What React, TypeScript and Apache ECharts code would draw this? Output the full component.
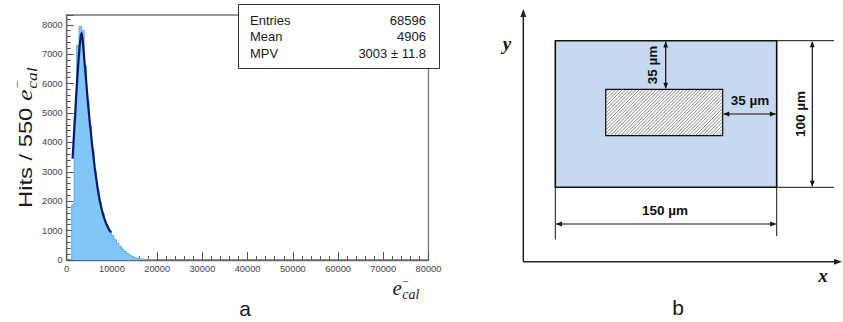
import React, { useEffect, useRef } from 'react';
import * as echarts from 'echarts';

// ---------- Panel a: histogram data ----------
const BIN_WIDTH = 550;
const FIRST_BIN_LOW_EDGE = 1100;
const hitCounts = [1870, 4800, 7300, 7950, 7800, 6600, 5400, 4550, 3750, 3000, 2400, 1950, 1600, 1330, 1150, 990, 830, 690, 570, 460, 370, 290, 220, 160, 115, 80, 55, 35, 22, 14, 8, 5, 3, 2];

// Landau fit curve
const fitEnergy = [1300, 1600, 1900, 2200, 2500, 2800, 3050, 3300, 3550, 3800, 4100, 4400, 4700, 5000, 5300, 5600, 5900, 6200, 6500, 6800, 7100, 7400, 7700, 8000, 8300, 8600, 8900, 9200, 9500, 9800];
const fitHits = [3450, 4250, 5050, 5850, 6550, 7150, 7550, 7730, 7450, 7000, 6450, 5900, 5350, 4850, 4400, 3950, 3550, 3150, 2800, 2480, 2200, 1960, 1750, 1570, 1420, 1290, 1180, 1080, 1000, 940];

const X_MIN = 0;
const X_MAX = 80000;
const X_STEP = 10000;
const Y_MIN = 0;
const Y_MAX = 8333;
const Y_STEP = 1000;

const statLabels = ['Entries', 'Mean', 'MPV'];
const statValues = ['68596', '4906', '3003 \u00b1 11.8'];

const yTitleMain = 'Hits / 550 ';
const eSymbol = 'e';
const eSub = 'cal';
const eSup = '\u2212';

// ---------- Panel b: diagram labels ----------
const dimTop = '35 \u00b5m';
const dimSide = '35 \u00b5m';
const dimHeight = '100 \u00b5m';
const dimWidth = '150 \u00b5m';
const panelLabels = ['a', 'b'];
const axisNames = ['x', 'y'];

const SANS = '"Liberation Sans", Arial, sans-serif';
const SERIF = '"Liberation Serif", "DejaVu Serif", serif';

function measure(font: string, text: string): number {
  const c = document.createElement('canvas').getContext('2d');
  if (!c) return text.length * 8;
  c.font = font;
  return c.measureText(text).width;
}

function txt(text: string, x: number, y: number, o: any = {}) {
  const align = o.align || 'center';
  const va = o.va || 'middle';
  return {
    type: 'text',
    x,
    y,
    rotation: o.rotation || 0,
    z: o.z || 30,
    style: {
      text,
      fontSize: o.size || 12,
      fontFamily: o.family || SANS,
      fontWeight: o.weight || 'normal',
      fontStyle: o.style || 'normal',
      fill: o.fill || '#111',
      align,
      verticalAlign: va,
      textAlign: align,
      textVerticalAlign: va,
    },
  };
}

function ln(x1: number, y1: number, x2: number, y2: number, w = 1.2, color = '#111') {
  return { type: 'line', z: 20, shape: { x1, y1, x2, y2 }, style: { stroke: color, lineWidth: w } };
}

function arrowHead(tx: number, ty: number, dx: number, dy: number, len = 6, half = 2.4, color = '#111') {
  const bx = tx - dx * len;
  const by = ty - dy * len;
  const px = -dy * half;
  const py = dx * half;
  return {
    type: 'polygon',
    z: 21,
    shape: { points: [[tx, ty], [bx + px, by + py], [bx - px, by - py]] },
    style: { fill: color },
  };
}

// e_cal^- built in local coordinates, baseline at y = 0, starting at x = 0
function eCalChildren(startX: number, eSize: number, subSize: number, supSize: number, fill: string) {
  const eFont = `italic ${eSize}px ${SERIF}`;
  const eW = measure(eFont, eSymbol);
  const k = 0.35;
  return [
    txt(eSymbol, startX, -k * eSize, { size: eSize, family: SERIF, style: 'italic', align: 'left', fill }),
    txt(eSub, startX + eW + 0.5, subSize * 0.33 - k * subSize, { size: subSize, family: SERIF, style: 'italic', align: 'left', fill }),
    txt(eSup, startX + eW + 0.5, -eSize * 0.68, { size: supSize, family: SERIF, align: 'left', fill }),
  ];
}

function hatchLines(x0: number, y0: number, x1: number, y1: number, step: number) {
  const out: any[] = [];
  for (let k = x0 + y0 + step; k < x1 + y1; k += step) {
    const xa = Math.max(x0, k - y1);
    const xb = Math.min(x1, k - y0);
    if (xb <= xa) continue;
    out.push({
      type: 'line',
      z: 16,
      shape: { x1: xa, y1: k - xa, x2: xb, y2: k - xb },
      style: { stroke: '#7a7a7a', lineWidth: 0.8 },
    });
  }
  return out;
}

export default function App() {
  const ref = useRef<HTMLDivElement>(null);

  useEffect(() => {
    document.body.style.margin = '0';
    if (!ref.current) return;
    const chart = echarts.init(ref.current, null, { renderer: 'svg' });

    // histogram as a step outline
    const histData: number[][] = [[FIRST_BIN_LOW_EDGE, 0]];
    hitCounts.forEach((c, i) => histData.push([FIRST_BIN_LOW_EDGE + i * BIN_WIDTH, c]));
    const lastEdge = FIRST_BIN_LOW_EDGE + hitCounts.length * BIN_WIDTH;
    histData.push([lastEdge, 0]);

    const fitData = fitEnergy.map((e, i) => [e, fitHits[i]]);

    const mainSize = 19;
    const mainFont = `${mainSize}px ${SANS}`;
    const mainW = measure(mainFont, yTitleMain);

    const textColor = '#1a1a1a';

    // ----- diagram geometry -----
    const axX = 523.3;
    const axY = 261.7;
    const bx0 = 555.3, by0 = 40.7, bx1 = 776.7, by1 = 187.3;
    const hx0 = 605.7, hy0 = 89.3, hx1 = 722.7, hy1 = 135.7;
    const vDimX = 665.7;
    const hDimY = 114;
    const rDimX = 812.3;
    const bDimY = 224;

    const graphics: any[] = [
      // stat box
      {
        type: 'rect',
        z: 25,
        shape: { x: 238.5, y: 4.5, width: 201, height: 64 },
        style: { fill: '#ffffff', stroke: '#333', lineWidth: 1 },
      },
      ...statLabels.map((s, i) => txt(s, 250, 20 + i * 16.7, { size: 13, align: 'left', fill: textColor })),
      ...statValues.map((s, i) => txt(s, 426, 20 + i * 16.7, { size: 13, align: 'right', fill: textColor })),

      // y axis title (rotated, stretched)
      {
        type: 'group',
        x: 32,
        y: 208,
        rotation: Math.PI / 2,
        scaleX: 1.25,
        children: [
          txt(yTitleMain, 0, -0.35 * mainSize, { size: mainSize, align: 'left', fill: textColor }),
          ...eCalChildren(mainW, 21, 14, 11, textColor),
        ],
      },
      // x axis title
      {
        type: 'group',
        x: 392.5,
        y: 295,
        children: eCalChildren(0, 21, 14, 11, textColor),
      },
      // panel letters
      txt(panelLabels[0], 245, 308, { size: 21, fill: textColor }),
      txt(panelLabels[1], 678, 307, { size: 21, fill: textColor }),

      // ----- panel b -----
      ln(axX, 14, axX, axY, 1.5, '#222'),
      ln(axX, axY, 836, axY, 1.5, '#222'),
      arrowHead(axX, 9, 0, -1, 8, 3, '#222'),
      arrowHead(842, axY, 1, 0, 8, 3, '#222'),
      txt(axisNames[1], 507, 43, { size: 19, family: SERIF, style: 'italic', weight: 'bold', fill: '#111' }),
      txt(axisNames[0], 823, 275, { size: 19, family: SERIF, style: 'italic', weight: 'bold', fill: '#111' }),

      {
        type: 'rect',
        z: 15,
        shape: { x: bx0, y: by0, width: bx1 - bx0, height: by1 - by0 },
        style: { fill: '#c6d9f0', stroke: '#111', lineWidth: 1.6 },
      },
      {
        type: 'rect',
        z: 15.5,
        shape: { x: hx0, y: hy0, width: hx1 - hx0, height: hy1 - hy0 },
        style: { fill: '#f6f6f6', stroke: 'none' },
      },
      ...hatchLines(hx0, hy0, hx1, hy1, 3.4),
      {
        type: 'rect',
        z: 17,
        shape: { x: hx0, y: hy0, width: hx1 - hx0, height: hy1 - hy0 },
        style: { fill: 'none', stroke: '#111', lineWidth: 1.2 },
      },

      // top 35 µm (vertical)
      ln(vDimX, by0 + 1, vDimX, hy0 - 1),
      arrowHead(vDimX, by0 + 0.8, 0, -1),
      arrowHead(vDimX, hy0 - 0.6, 0, 1),
      txt(dimTop, 652, 65, { size: 13.5, weight: 'bold', rotation: Math.PI / 2, fill: '#111' }),

      // side 35 µm (horizontal)
      ln(hx1 + 1, hDimY, bx1 - 1, hDimY),
      arrowHead(hx1 + 0.6, hDimY, -1, 0),
      arrowHead(bx1 - 0.8, hDimY, 1, 0),
      txt(dimSide, 750, 100, { size: 13.5, weight: 'bold', fill: '#111' }),

      // 100 µm
      ln(bx1, by0, 834, by0, 1),
      ln(bx1, by1, 834, by1, 1),
      ln(rDimX, by0 + 1, rDimX, by1 - 1),
      arrowHead(rDimX, by0 + 0.6, 0, -1),
      arrowHead(rDimX, by1 - 0.6, 0, 1),
      txt(dimHeight, 800, 114, { size: 13.5, weight: 'bold', rotation: Math.PI / 2, fill: '#111' }),

      // 150 µm
      ln(bx0, by1, bx0, 239.5, 1),
      ln(bx1, by1, bx1, 236, 1),
      ln(bx0 + 1, bDimY, bx1 - 1, bDimY),
      arrowHead(bx0 + 0.6, bDimY, -1, 0),
      arrowHead(bx1 - 0.6, bDimY, 1, 0),
      txt(dimWidth, 665, 210, { size: 13.5, weight: 'bold', fill: '#111' }),
    ];

    const axisLabelStyle = {
      fontSize: 9.3,
      color: '#444',
      fontFamily: SANS,
    };

    const option: any = {
      animation: false,
      backgroundColor: '#ffffff',
      grid: {
        left: 66.7,
        top: 15,
        right: 414.5,
        bottom: 62,
        show: true,
        borderColor: '#777',
        borderWidth: 1.3,
        backgroundColor: 'transparent',
      },
      xAxis: {
        type: 'value',
        min: X_MIN,
        max: X_MAX,
        interval: X_STEP,
        axisLine: { show: true, lineStyle: { color: '#666', width: 1.3 } },
        axisTick: { show: true, inside: true, length: 8, lineStyle: { color: '#555', width: 1 } },
        minorTick: { show: true, splitNumber: 5, length: 4, lineStyle: { color: '#555', width: 1 } },
        splitLine: { show: false },
        axisLabel: { ...axisLabelStyle, margin: 4, formatter: (v: number) => String(v) },
      },
      yAxis: {
        type: 'value',
        min: Y_MIN,
        max: Y_MAX,
        interval: Y_STEP,
        axisLine: { show: true, lineStyle: { color: '#666', width: 1.3 } },
        axisTick: { show: true, inside: true, length: 7, lineStyle: { color: '#555', width: 1 } },
        minorTick: { show: true, splitNumber: 5, length: 4, lineStyle: { color: '#555', width: 1 } },
        splitLine: { show: false },
        axisLabel: {
          ...axisLabelStyle,
          margin: 4,
          showMaxLabel: false,
          formatter: (v: number) => (v % Y_STEP === 0 ? String(v) : ''),
        },
      },
      series: [
        {
          type: 'line',
          step: 'end',
          data: histData,
          symbol: 'none',
          z: 2,
          lineStyle: { color: '#55aef0', width: 1 },
          areaStyle: { color: '#80c6f9', opacity: 1 },
        },
        {
          type: 'line',
          data: fitData,
          smooth: 0.3,
          symbol: 'none',
          z: 3,
          lineStyle: { color: '#0c1a66', width: 2.2 },
        },
      ],
      graphic: { elements: graphics },
    };

    chart.setOption(option);
    return () => chart.dispose();
  }, []);

  return <div ref={ref} style={{ width: 843, height: 322 }} />;
}
